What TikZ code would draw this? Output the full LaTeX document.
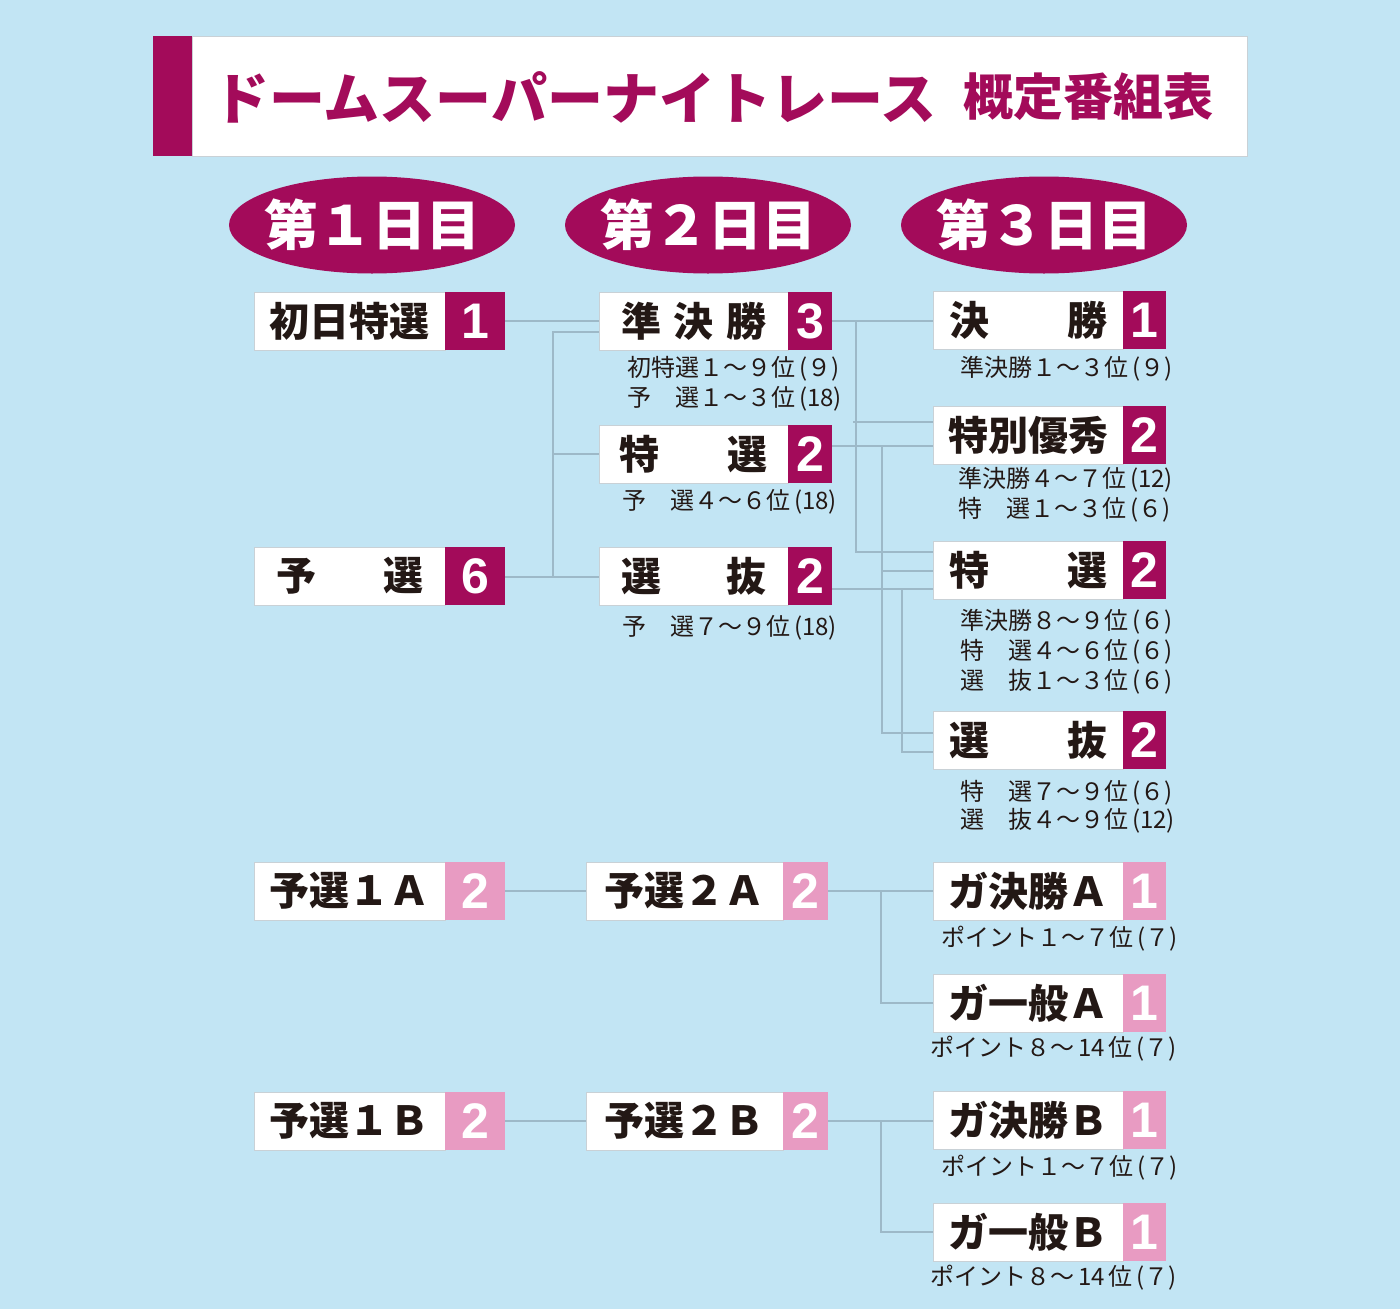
\documentclass[tikz,border=0pt]{standalone}
\usepackage{fontspec}
\usetikzlibrary{calc,shapes.geometric}
\newfontfamily\jp{Noto Sans CJK JP}
\newfontfamily\numf{Liberation Sans}
\definecolor{bg}{HTML}{C2E5F4}
\definecolor{mag}{HTML}{A30B5A}
\definecolor{pinkc}{HTML}{E89BC2}
\definecolor{ink}{HTML}{231815}
\definecolor{lnc}{HTML}{9DB9C8}
\definecolor{edgec}{HTML}{C9D1D6}
\tikzset{
  wbox/.style={fill=white, draw=edgec, line width=0.8pt, minimum height=58pt, inner sep=0pt, outer sep=0pt},
  nbox/.style={text=white, minimum height=58pt, inner sep=0pt, outer sep=0pt, font=\numf\bfseries\fontsize{50}{50}\selectfont},
  lbl/.style={text=ink, inner sep=0pt, font=\jp\bfseries\fontsize{40}{44}\selectfont},
  sub/.style={text=ink, inner sep=0pt, anchor=west, font=\jp\fontsize{24}{26}\selectfont},
  dayoval/.style={ellipse, fill=mag, minimum width=286pt, minimum height=97pt, inner sep=0pt},
  daytext/.style={text=white, inner sep=0pt, font=\jp\bfseries\fontsize{54}{56}\selectfont},
  conn/.style={draw=lnc, line width=1.2pt}
}
\newcommand\racebox[8]{%
  \node[wbox, minimum width=#3-#2, anchor=north west] (#1) at (#2,#5) {};
  \node[nbox, fill=#8, minimum width=#4-#3, anchor=north west] (#1n) at (#3,#5) {#7};
  \node[lbl] (#1t) at (#1.center) {#6};
}
\begin{document}
\begin{tikzpicture}[x=1pt,y=-1pt]
\fill[bg] (0,0) rectangle (1400,1309);
\useasboundingbox (0,0) rectangle (1400,1309);

% title
\node[fill=white, draw=edgec, line width=0.8pt, minimum width=1055pt, minimum height=120pt, anchor=north west, inner sep=0pt] (tbox) at (192,36) {};
\node[fill=mag, minimum width=39pt, minimum height=120pt, anchor=north west, inner sep=0pt] (tbar) at (153,36) {};
\node[anchor=west, text=mag, inner sep=0pt, font=\jp\bfseries\fontsize{56}{60}\selectfont] (ttl) at (213,97) {ドームスーパーナイトレース};
\node[anchor=west, text=mag, inner sep=0pt, font=\jp\bfseries\fontsize{50}{54}\selectfont] (ttl2) at (963,97) {概定番組表};

% day ovals
\node[dayoval] (day1) at (372,225) {};
\node[dayoval] (day2) at (708,225) {};
\node[dayoval] (day3) at (1044,225) {};
\node[daytext] (day1t) at (day1.center) {第１日目};
\node[daytext] (day2t) at (day2.center) {第２日目};
\node[daytext] (day3t) at (day3.center) {第３日目};

% day 1
\racebox{da}{254}{445}{505}{292}{初日特選}{1}{mag}
\racebox{db}{254}{445}{505}{547}{\makebox[147pt]{予\hfill 選}}{6}{mag}
\racebox{dc}{254}{445}{505}{862}{予選１Ａ}{2}{pinkc}
\racebox{dd}{254}{445}{505}{1092}{予選１Ｂ}{2}{pinkc}

% day 2
\racebox{ea}{599}{788}{832}{292}{\makebox[145pt]{準\hfill 決\hfill 勝}}{3}{mag}
\racebox{eb}{599}{788}{832}{425}{\makebox[148pt]{特\hfill 選}}{2}{mag}
\racebox{ec}{599}{788}{832}{547}{\makebox[145pt]{選\hfill 抜}}{2}{mag}
\racebox{ed}{586}{783}{828}{862}{予選２Ａ}{2}{pinkc}
\racebox{ee}{586}{783}{828}{1092}{予選２Ｂ}{2}{pinkc}

% day 3
\racebox{fa}{933}{1123}{1166}{291}{\makebox[158pt]{決\hfill 勝}}{1}{mag}
\racebox{fb}{933}{1123}{1166}{406}{特別優秀}{2}{mag}
\racebox{fc}{933}{1123}{1166}{541}{\makebox[158pt]{特\hfill 選}}{2}{mag}
\racebox{fd}{933}{1123}{1166}{711}{\makebox[158pt]{選\hfill 抜}}{2}{mag}
\racebox{fe}{933}{1123}{1166}{862}{ガ決勝Ａ}{1}{pinkc}
\racebox{ff}{933}{1123}{1166}{974}{ガ一般Ａ}{1}{pinkc}
\racebox{fg}{933}{1123}{1166}{1091}{ガ決勝Ｂ}{1}{pinkc}
\racebox{fh}{933}{1123}{1166}{1203}{ガ一般Ｂ}{1}{pinkc}

% sub texts
\node[sub] (s1) at (627,369) {初特選１～９位\,(９)};
\node[sub] (s2) at (627,399) {予　選１～３位\,(18)};
\node[sub] (s3) at (622,502) {予　選４～６位\,(18)};
\node[sub] (s4) at (622,628) {予　選７～９位\,(18)};
\node[sub] (s5) at (960,369) {準決勝１～３位\,(９)};
\node[sub] (s6) at (958,480) {準決勝４～７位\,(12)};
\node[sub] (s7) at (958,510) {特　選１～３位\,(６)};
\node[sub] (s8) at (960,622) {準決勝８～９位\,(６)};
\node[sub] (s9) at (960,652) {特　選４～６位\,(６)};
\node[sub] (s10) at (960,682) {選　抜１～３位\,(６)};
\node[sub] (s11) at (960,793) {特　選７～９位\,(６)};
\node[sub] (s12) at (960,821) {選　抜４～９位\,(12)};
\node[sub] (s13) at (941,939) {ポイント１～７位\,(７)};
\node[sub] (s14) at (930,1049) {ポイント８～\,14\,位\,(７)};
\node[sub] (s15) at (941,1168) {ポイント１～７位\,(７)};
\node[sub] (s16) at (930,1278) {ポイント８～\,14\,位\,(７)};

% connectors day1 -> day2
\draw[conn] (dan.east) -- (dan.east -| ea.west);
\coordinate (j1) at (553,577);
\draw[conn] (dbn.east |- j1) -- (j1 -| ec.west);
\draw[conn] (ea.west |- 0,332) -| (j1);
\draw[conn] (j1 |- eb.west) -- (eb.west);

% day2 -> day3
\coordinate (j2) at (856,321);
\draw[conn] (ean.east |- j2) -- (j2 -| fa.west);
\draw[conn] (j2) |- (fc.west |- 0,552);
\draw[conn] (853,422) -- (fb.west |- 0,422);
\coordinate (j3) at (882,446);
\draw[conn] (ebn.east |- j3) -- (j3 -| fb.west);
\draw[conn] (j3) |- (fd.west |- 0,733);
\draw[conn] (j3 |- 0,571) -- (fc.west |- 0,571);
\coordinate (j4) at (902,589);
\draw[conn] (ecn.east |- j4) -- (j4 -| fc.west);
\draw[conn] (j4) |- (fd.west |- 0,752);

% point races
\draw[conn] (dcn.east) -- (dcn.east -| ed.west);
\draw[conn] (ddn.east) -- (ddn.east -| ee.west);
\coordinate (j5) at (881,891);
\draw[conn] (edn.east |- j5) -- (j5 -| fe.west);
\draw[conn] (j5) |- (ff.west);
\coordinate (j6) at (881,1121);
\draw[conn] (een.east |- j6) -- (j6 -| fg.west);
\draw[conn] (j6) |- (fh.west);
\end{tikzpicture}
\end{document}
